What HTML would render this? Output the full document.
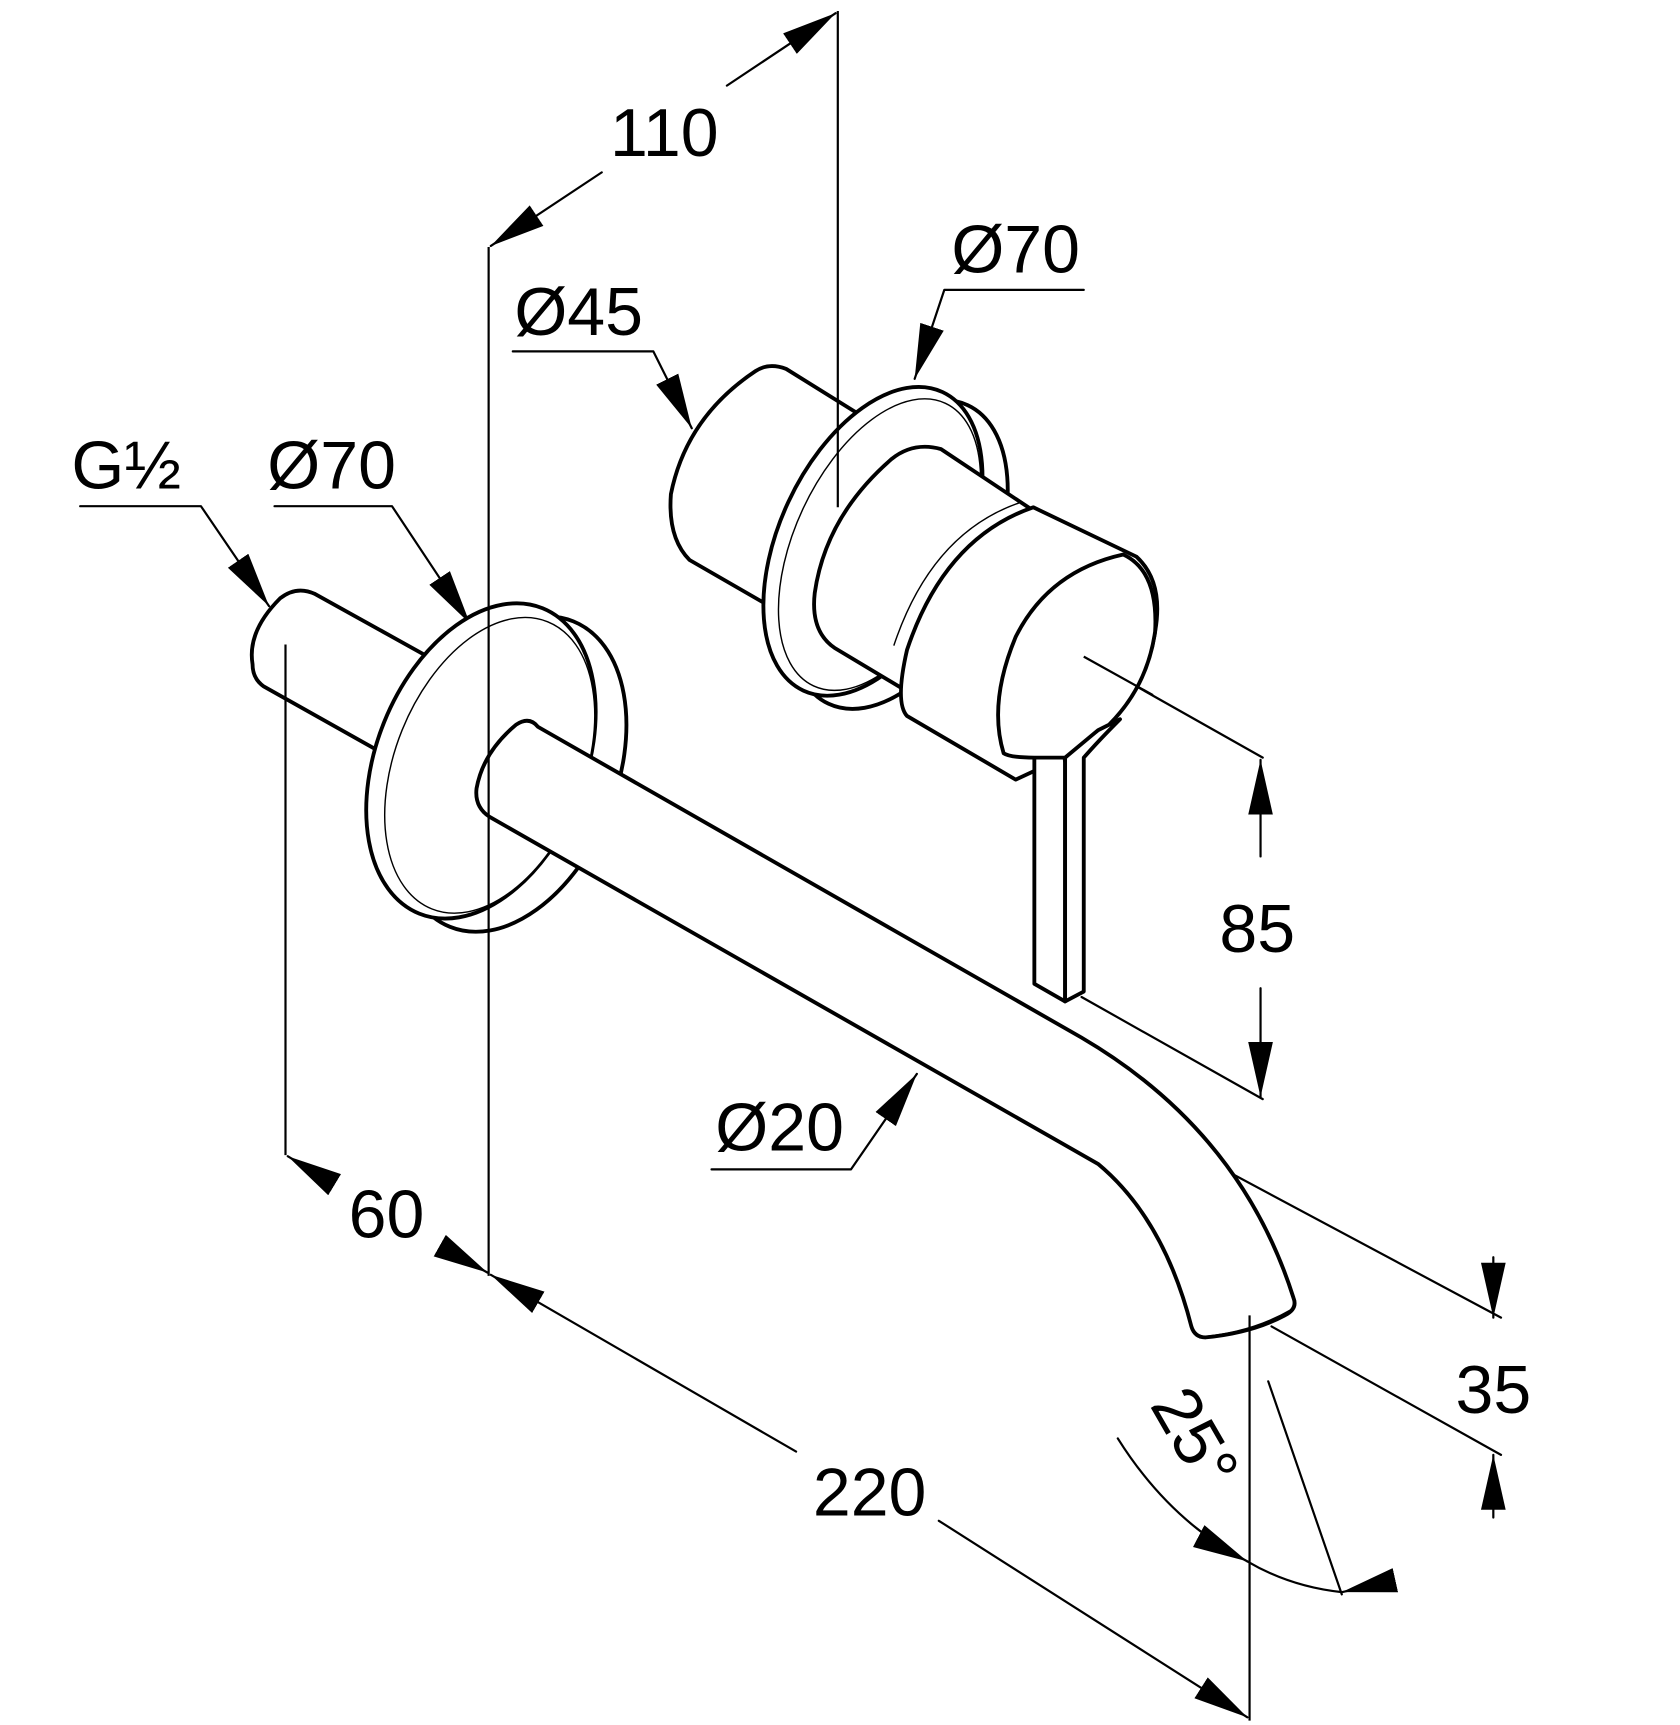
<!DOCTYPE html>
<html><head><meta charset="utf-8"><style>html,body{margin:0;padding:0;background:#fff}svg{display:block}</style></head>
<body>
<svg width="1680" height="1725" viewBox="0 0 1530 1571" xmlns="http://www.w3.org/2000/svg">
<defs>
<marker id="a" markerUnits="userSpaceOnUse" markerWidth="50" markerHeight="24" refX="40" refY="9" orient="auto" viewBox="0 0 40 18"><path d="M0,0 L40,9 L0,18 Z" fill="#000"/></marker>
</defs>
<g fill="none" stroke="#000" stroke-width="2" stroke-linecap="round" stroke-linejoin="round">
<line x1="987" y1="598" x2="1150" y2="690"/>
<line x1="985" y1="908" x2="1150" y2="1001"/>
<line x1="980" y1="993" x2="1367" y2="1200"/>
<line x1="1158" y1="1208" x2="1367" y2="1325"/>
<line x1="1155" y1="1258" x2="1222" y2="1452"/>
<line x1="548" y1="157" x2="447" y2="224" marker-end="url(#a)"/>
<line x1="662" y1="78" x2="761" y2="12" marker-end="url(#a)"/>
<polyline points="467,320 595,320 630,390" marker-end="url(#a)"/>
<polyline points="987,264 860,264 833,345" marker-end="url(#a)"/>
<polyline points="73,461 183,461 245,552" marker-end="url(#a)"/>
<polyline points="250,461 357,461 428,568" marker-end="url(#a)"/>
<polyline points="648,1065 775,1065 835,978" marker-end="url(#a)"/>
<line x1="1148" y1="780" x2="1148" y2="692" marker-end="url(#a)"/>
<line x1="1148" y1="900" x2="1148" y2="999" marker-end="url(#a)"/>
<line x1="1360" y1="1145" x2="1360" y2="1200" marker-end="url(#a)"/>
<line x1="1360" y1="1382" x2="1360" y2="1325" marker-end="url(#a)"/>
<line x1="300" y1="1076" x2="262" y2="1053" marker-end="url(#a)"/>
<line x1="405" y1="1137" x2="444" y2="1159" marker-end="url(#a)"/>
<line x1="725" y1="1322" x2="447" y2="1161" marker-end="url(#a)"/>
<line x1="855" y1="1385" x2="1136" y2="1564" marker-end="url(#a)"/>
<path d="M1018,1310 Q1065,1385 1136,1422" marker-end="url(#a)"/>
<path d="M1136,1422 Q1175,1445 1222,1450"/>
<line x1="1258" y1="1442" x2="1222" y2="1450" marker-end="url(#a)"/>
</g>
<g fill="#fff" stroke="#000" stroke-width="3.5" stroke-linejoin="round">
<path d="M395,601 L287,541 Q270,533 255,545 Q225,575 230,605 Q230,618 240,625 L345,684"/>
<!-- left flange -->
<ellipse cx="466" cy="705" rx="95" ry="150" transform="rotate(22 466 705)"/>
<ellipse cx="438" cy="693" rx="95" ry="150" transform="rotate(22 438 693)"/>
<ellipse cx="446" cy="697" rx="86" ry="141" transform="rotate(22 446 697)" stroke-width="1.3"/>
<!-- spout -->
<path d="M490,662 L985,945 Q1130,1030 1178,1182 Q1182,1192 1170,1198 Q1140,1214 1098,1218 Q1088,1218 1085,1208 Q1060,1110 1000,1060 L446,744 Q432,735 434,718 Q440,685 470,660 Q482,652 490,662 Z"/>
<path d="M1092,1218 Q1140,1214 1176,1193" fill="none" stroke-width="2"/>
<!-- right cap -->
<path d="M790,382 L716,336 Q700,330 688,338 Q625,380 611,450 Q608,490 628,510 L720,563 L790,382 Z"/>
<path d="M790,382 L720,563" stroke="#fff" stroke-width="5"/>
<!-- right flange -->
<ellipse cx="818" cy="505" rx="85" ry="150" transform="rotate(25 818 505)"/>
<ellipse cx="795" cy="493" rx="85" ry="150" transform="rotate(25 795 493)"/>
<ellipse cx="801" cy="496" rx="77" ry="142" transform="rotate(25 801 496)" stroke-width="1.3"/>
<!-- body cylinder 1 -->
<path d="M857,409 L938,463 L940,540 L830,632 L760,590 Q738,575 742,540 Q752,470 812,418 Q832,402 857,409 Z"/>
<!-- cylinder 2 -->
<path d="M941,462 L1035,507 Q1060,530 1052,575 Q1045,625 1000,665 L968,690 L925,710 L826,652 Q815,640 826,592 Q860,490 941,462 Z"/>
<path d="M826,592 Q860,490 940,462" fill="none" stroke-width="1.3" transform="translate(-12,-4)"/>
<!-- lever -->
<path d="M942,690 Q945,685 966,686 Q970,688 970,695 L970,912 L942,896 Z"/>
<path d="M970,912 L987,903 L987,690 Q1000,675 1020,655 L1000,665 Q980,680 970,690 Z"/>
<path d="M914,686 Q900,640 925,580 Q955,520 1023,505 Q1055,520 1052,575 Q1045,625 1010,660 L1000,665 L970,690 L942,690 Q920,690 914,686 Z"/>
</g>
<g fill="none" stroke="#000" stroke-width="2">
<line x1="763" y1="10" x2="763" y2="462"/>
<line x1="445" y1="225" x2="445" y2="1162"/>
<line x1="260" y1="587" x2="260" y2="1052"/>
<line x1="1138" y1="1198" x2="1138" y2="1567"/>
<line x1="987" y1="598" x2="1050" y2="633"/>
</g>
<g font-family="'Liberation Sans', Arial, sans-serif" font-size="62" fill="#000" text-anchor="middle">
<text x="605" y="142">110</text>
<text x="925" y="248">Ø70</text>
<text x="527" y="305">Ø45</text>
<text x="115" y="445">G½</text>
<text x="302" y="445">Ø70</text>
<text x="1145" y="867">85</text>
<text x="710" y="1048">Ø20</text>
<text x="352" y="1127">60</text>
<text x="1360" y="1287">35</text>
<text x="792" y="1380">220</text>
<text x="0" y="0" transform="translate(1070,1320) rotate(60)">25°</text>
</g>
</svg>
</body></html>
